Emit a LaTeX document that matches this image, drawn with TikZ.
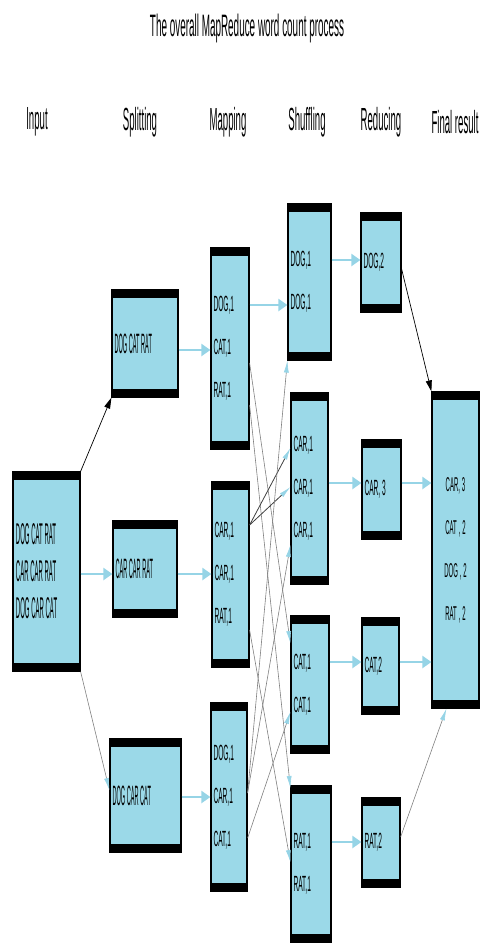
\documentclass[tikz,border=0pt]{standalone}
\usepackage{fontspec}
\setmainfont{Liberation Sans}
\newfontfamily\narrowa{Liberation Sans}[FakeStretch=0.2]
\newfontfamily\narrowb{Liberation Sans}[FakeStretch=0.3]
\newfontfamily\narrowc{Liberation Sans}[FakeStretch=0.32]
\usetikzlibrary{arrows.meta,positioning}

\definecolor{boxblue}{RGB}{155,217,232}
\definecolor{arrowblue}{RGB}{150,212,230}

\begin{document}
\begin{tikzpicture}[x=1pt,y=-1pt,
  box/.style={rectangle,draw=black,line width=1.2pt,fill=boxblue,
              inner xsep=2pt,inner ysep=0pt,align=left,
              execute at begin node={\spaceskip=0pt\xspaceskip=0pt},
              path picture={
                \fill[black] (path picture bounding box.north west)
                  rectangle ([yshift=-8pt]path picture bounding box.north east);
                \fill[black] (path picture bounding box.south west)
                  rectangle ([yshift=8pt]path picture bounding box.south east);}},
  inbox/.style={box,font=\narrowa\fontsize{30}{37}\selectfont},
  splitbox/.style={box,font=\narrowa\fontsize{28}{32}\selectfont},
  kvbox/.style={box,font=\narrowb\fontsize{22}{43}\selectfont},
  finbox/.style={box,align=center,font=\narrowb\fontsize{20}{43}\selectfont},
  head/.style={font=\narrowb\fontsize{32}{36}\selectfont},
  flow/.style={-{Triangle[length=9pt,width=12pt]},line width=2.5pt,draw=arrowblue},
  link/.style={-{Latex[length=12pt,width=5pt,color=arrowblue]},line width=0.6pt,draw=gray},
  dark/.style={link,draw=black!75,line width=0.8pt},
  blk/.style={-{Triangle[length=11pt,width=6pt]},line width=0.7pt,black},
]
  \useasboundingbox (0,0) rectangle (480,943);

  % title and column heads
  \node[font=\narrowc\fontsize{31}{34}\selectfont] (title) at (247,28) {The overall MapReduce word count process};
  \node[head] (hin)  at (37,122)  {Input};
  \node[head] (hsp)  at (140,122) {Splitting};
  \node[head] (hmap) at (228,122) {Mapping};
  \node[head] (hsh)  at (307,122) {Shuffling};
  \node[head] (hrd)  at (381,122) {Reducing};
  \node[head] (hfin) at (455,122) {Final result};

  % input
  \node[inbox,minimum width=67pt,minimum height=199pt,text width=61pt] (in1) at (46.5,571.5)
    {DOG CAT RAT\\CAR CAR RAT\\DOG CAR CAT};

  % splitting
  \node[splitbox,minimum width=66pt,minimum height=107pt,text width=61pt] (sp1) at (145,343.5) {DOG CAT RAT};
  \node[splitbox,minimum width=64pt,minimum height=96pt,text width=59pt]  (sp2) at (145,569)   {CAR CAR RAT};
  \node[splitbox,minimum width=71pt,minimum height=113pt,text width=66pt] (sp3) at (145.5,795.5) {DOG CAR CAT};

  % mapping
  \node[kvbox,minimum width=38pt,minimum height=201pt,text width=33pt] (mp1) at (230,348.5) {DOG,1\\CAT,1\\RAT,1};
  \node[kvbox,minimum width=37pt,minimum height=185pt,text width=32pt] (mp2) at (230.5,574.5) {CAR,1\\CAR,1\\RAT,1};
  \node[kvbox,minimum width=36pt,minimum height=188pt,text width=31pt] (mp3) at (229,797) {DOG,1\\CAR,1\\CAT,1};

  % shuffling
  \node[kvbox,minimum width=43pt,minimum height=156pt,text width=38pt] (sh1) at (309.5,282)   {DOG,1\\DOG,1};
  \node[kvbox,minimum width=37pt,minimum height=191pt,text width=32pt] (sh2) at (309.5,488.5) {CAR,1\\CAR,1\\CAR,1};
  \node[kvbox,minimum width=38pt,minimum height=137pt,text width=33pt] (sh3) at (310,684.5)   {CAT,1\\CAT,1};
  \node[kvbox,minimum width=40pt,minimum height=156pt,text width=35pt] (sh4) at (311,864)     {RAT,1\\RAT,1};

  % reducing
  \node[kvbox,minimum width=40pt,minimum height=99pt,text width=35pt] (rd1) at (381,262.5)   {DOG,2};
  \node[kvbox,minimum width=39pt,minimum height=99pt,text width=34pt] (rd2) at (381.5,489.5) {CAR, 3};
  \node[kvbox,minimum width=37pt,minimum height=96pt,text width=32pt] (rd3) at (380.5,666)   {CAT,2};
  \node[kvbox,minimum width=38pt,minimum height=89pt,text width=33pt] (rd4) at (381,842.5)   {RAT,2};

  % final result
  \node[finbox,minimum width=47pt,minimum height=316pt,text width=42pt] (fin) at (455.5,550)
    {CAR, 3\\CAT , 2\\DOG , 2\\RAT , 2};

  % input -> splitting
  \draw[blk]  (in1.north east) -- (sp1.south west);
  \draw[flow] (in1.east |- 0,574) -- (sp2.west |- 0,574);
  \draw[link] (in1.south east) -- (sp3.west |- 0,790);

  % splitting -> mapping
  \draw[flow] (sp1.east |- 0,350) -- (mp1.west |- 0,350);
  \draw[flow] (sp2.east |- 0,574) -- (mp2.west |- 0,574);
  \draw[flow] (sp3.east |- 0,797) -- (mp3.west |- 0,797);

  % mapping -> shuffling
  \draw[flow] (mp1.east |- 0,305) -- (sh1.west |- 0,305);
  \draw[link] (mp1.east |- 0,363) -- (sh3.west |- 0,643);
  \draw[link] (mp1.east |- 0,405) -- (sh4.west |- 0,788);
  \draw[dark] (mp2.east |- 0,525) -- (sh2.west |- 0,448);
  \draw[dark] (mp2.east |- 0,525) -- (sh2.west |- 0,487);
  \draw[link] (mp2.east |- 0,630) -- (sh4.west |- 0,862);
  \draw[link] (mp3.east |- 0,793) -- (sh1.south west);
  \draw[link] (mp3.east |- 0,793) -- (sh2.west |- 0,545);
  \draw[link] (mp3.east |- 0,838) -- (sh3.west |- 0,712);

  % shuffling -> reducing
  \draw[flow] (sh1.east |- 0,260) -- (rd1.west |- 0,260);
  \draw[flow] (sh2.east |- 0,483) -- (rd2.west |- 0,483);
  \draw[flow] (sh3.east |- 0,662) -- (rd3.west |- 0,662);
  \draw[flow] (sh4.east |- 0,842) -- (rd4.west |- 0,842);

  % reducing -> final result
  \draw[blk]  (rd1.east |- 0,269) -- (fin.north west);
  \draw[flow] (rd2.east |- 0,483) -- (fin.west |- 0,483);
  \draw[flow] (rd3.east |- 0,662) -- (fin.west |- 0,662);
  \draw[link] (rd4.east |- 0,837) -- ([xshift=15pt]fin.south west);
\end{tikzpicture}
\end{document}
